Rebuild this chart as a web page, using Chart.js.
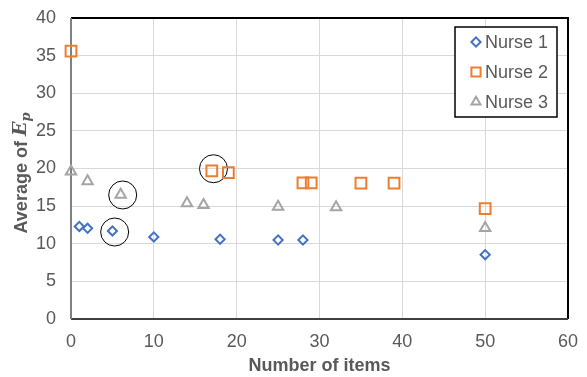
<!DOCTYPE html>
<html>
<head>
<meta charset="utf-8">
<script src="https://cdn.jsdelivr.net/npm/chart.js@4.4.1/dist/chart.umd.min.js"></script>
<style>
  html, body { margin: 0; padding: 0; background: #fff; }
  #wrap { width: 587px; height: 377px; position: relative; }
</style>
</head>
<body>
<div id="wrap"><canvas id="chart" width="587" height="377"></canvas></div>
<script>
// data
const seriesNames = ["Nurse 1", "Nurse 2", "Nurse 3"];
const nurse1X = [1, 2, 5, 10, 18, 25, 28, 50];
const nurse1Y = [12.3, 12.05, 11.7, 10.9, 10.6, 10.5, 10.5, 8.55];
const nurse2X = [0, 17, 19, 28, 29, 35, 39, 50];
const nurse2Y = [35.6, 19.7, 19.45, 18.1, 18.1, 18.07, 18.07, 14.66];
const nurse3X = [0, 2, 6, 14, 16, 25, 32, 50];
const nurse3Y = [19.6, 18.3, 16.5, 15.37, 15.15, 14.93, 14.85, 12.1];
// circled points
const circleX = [5.27, 6.24, 17.2];
const circleY = [11.56, 16.48, 19.97];

const xTicks = [0, 10, 20, 30, 40, 50, 60];
const yTicks = [0, 5, 10, 15, 20, 25, 30, 35, 40];

const colors = ["#4472C4", "#ED7D31", "#A5A5A5"];
const styles = ["rectRot", "rect", "triangle"];
const radii = [4.6, 7.6, 6];
const textGray = "#595959";
const FONT = "'Liberation Sans', Arial, sans-serif";

function pts(xs, ys) {
  return xs.map((x, i) => ({ x: x, y: ys[i] }));
}

const datasets = [
  [nurse1X, nurse1Y], [nurse2X, nurse2Y], [nurse3X, nurse3Y]
].map((d, i) => ({
  label: seriesNames[i],
  data: pts(d[0], d[1]),
  pointStyle: styles[i],
  pointRadius: radii[i],
  pointHoverRadius: radii[i],
  borderColor: colors[i],
  backgroundColor: "rgba(0,0,0,0)",
  pointBorderWidth: 2,
  showLine: false,
  clip: false
}));

datasets.push({
  label: "circles",
  data: pts(circleX, circleY),
  pointStyle: "circle",
  pointRadius: 14,
  pointHoverRadius: 14,
  borderColor: "#000",
  backgroundColor: "rgba(0,0,0,0)",
  pointBorderWidth: 1,
  showLine: false,
  clip: false
});

// frame, axis title and legend box
const extras = {
  id: "extras",
  beforeDatasetsDraw(chart) {
    const { ctx, chartArea: a } = chart;
    ctx.save();
    ctx.strokeStyle = "#000";
    ctx.lineWidth = 2;
    ctx.beginPath();
    ctx.moveTo(a.left, a.top);
    ctx.lineTo(a.right, a.top);
    ctx.lineTo(a.right, a.bottom);
    ctx.stroke();
    ctx.strokeStyle = "#404040";
    ctx.beginPath();
    ctx.moveTo(a.left, a.bottom);
    ctx.lineTo(a.right, a.bottom);
    ctx.stroke();
    ctx.strokeStyle = "#808080";
    ctx.beginPath();
    ctx.moveTo(a.left, a.top);
    ctx.lineTo(a.left, a.bottom);
    ctx.stroke();
    ctx.restore();
  },
  afterDraw(chart) {
    const { ctx, chartArea: a } = chart;
    ctx.save();

    // y axis title: "Average of E_p"
    ctx.translate(22, 173);
    ctx.rotate(-Math.PI / 2);
    ctx.fillStyle = textGray;
    ctx.textBaseline = "middle";
    const f1 = "bold 18px " + FONT;
    const f2 = "italic bold 19px 'DejaVu Serif', 'Liberation Serif', serif";
    const f3 = "italic bold 13px 'DejaVu Serif', 'Liberation Serif', serif";
    ctx.font = f1;
    const w1 = ctx.measureText("Average of ").width;
    ctx.font = f2;
    const w2 = ctx.measureText("E").width;
    ctx.font = f3;
    const w3 = ctx.measureText("p").width;
    let x = -(w1 + w2 + w3) / 2;
    ctx.textAlign = "left";
    ctx.font = f1;
    ctx.fillText("Average of ", x, 0);
    x += w1;
    ctx.font = f2;
    ctx.fillText("E", x, -1);
    x += w2;
    ctx.font = f3;
    ctx.fillText("p", x, 5);
    ctx.restore();

    // legend
    ctx.save();
    const bx = 455, by = 27, bw = 102, bh = 90;
    ctx.fillStyle = "#fff";
    ctx.fillRect(bx, by, bw, bh);
    ctx.strokeStyle = "#000";
    ctx.lineWidth = 1.5;
    ctx.strokeRect(bx, by, bw, bh);
    ctx.font = "18px " + FONT;
    ctx.textBaseline = "middle";
    ctx.textAlign = "left";
    seriesNames.forEach((name, i) => {
      const cy = by + 15 + i * 30;
      ctx.strokeStyle = colors[i];
      ctx.fillStyle = "rgba(0,0,0,0)";
      ctx.lineWidth = 2;
      Chart.helpers.drawPoint(ctx, {
        pointStyle: styles[i],
        radius: [4.6, 6.5, 5.2][i],
        rotation: 0,
        borderWidth: 2
      }, bx + 21, cy);
      ctx.fillStyle = textGray;
      ctx.fillText(name, bx + 30, cy + 1);
    });
    ctx.restore();
  }
};

new Chart(document.getElementById("chart"), {
  type: "scatter",
  data: { datasets: datasets },
  plugins: [extras],
  options: {
    responsive: false,
    animation: false,
    layout: { padding: { left: 0, right: 19, top: 18, bottom: 0 } },
    plugins: {
      legend: { display: false },
      tooltip: { enabled: false }
    },
    scales: {
      x: {
        type: "linear",
        min: 0,
        max: 60,
        afterBuildTicks: s => { s.ticks = xTicks.map(v => ({ value: v })); },
        afterFit: s => {
          s.height = 58;
          s.paddingLeft = 0;
          s.paddingRight = 0;
        },
        grid: { color: "#d9d9d9", drawTicks: false },
        border: { display: false },
        ticks: {
          padding: 12,
          color: textGray,
          font: { family: FONT, size: 18 },
          maxRotation: 0
        },
        title: {
          display: true,
          text: "Number of items",
          color: textGray,
          font: { family: FONT, size: 18, weight: "bold" },
          padding: { top: 2, bottom: 0 }
        }
      },
      y: {
        type: "linear",
        min: 0,
        max: 40,
        afterBuildTicks: s => { s.ticks = yTicks.map(v => ({ value: v })); },
        afterFit: s => {
          s.width = 71;
          s.paddingTop = 0;
          s.paddingBottom = 0;
        },
        grid: { color: "#d9d9d9", drawTicks: false },
        border: { display: false },
        ticks: {
          padding: 15,
          color: textGray,
          font: { family: FONT, size: 18 }
        }
      }
    }
  }
});
</script>
</body>
</html>
